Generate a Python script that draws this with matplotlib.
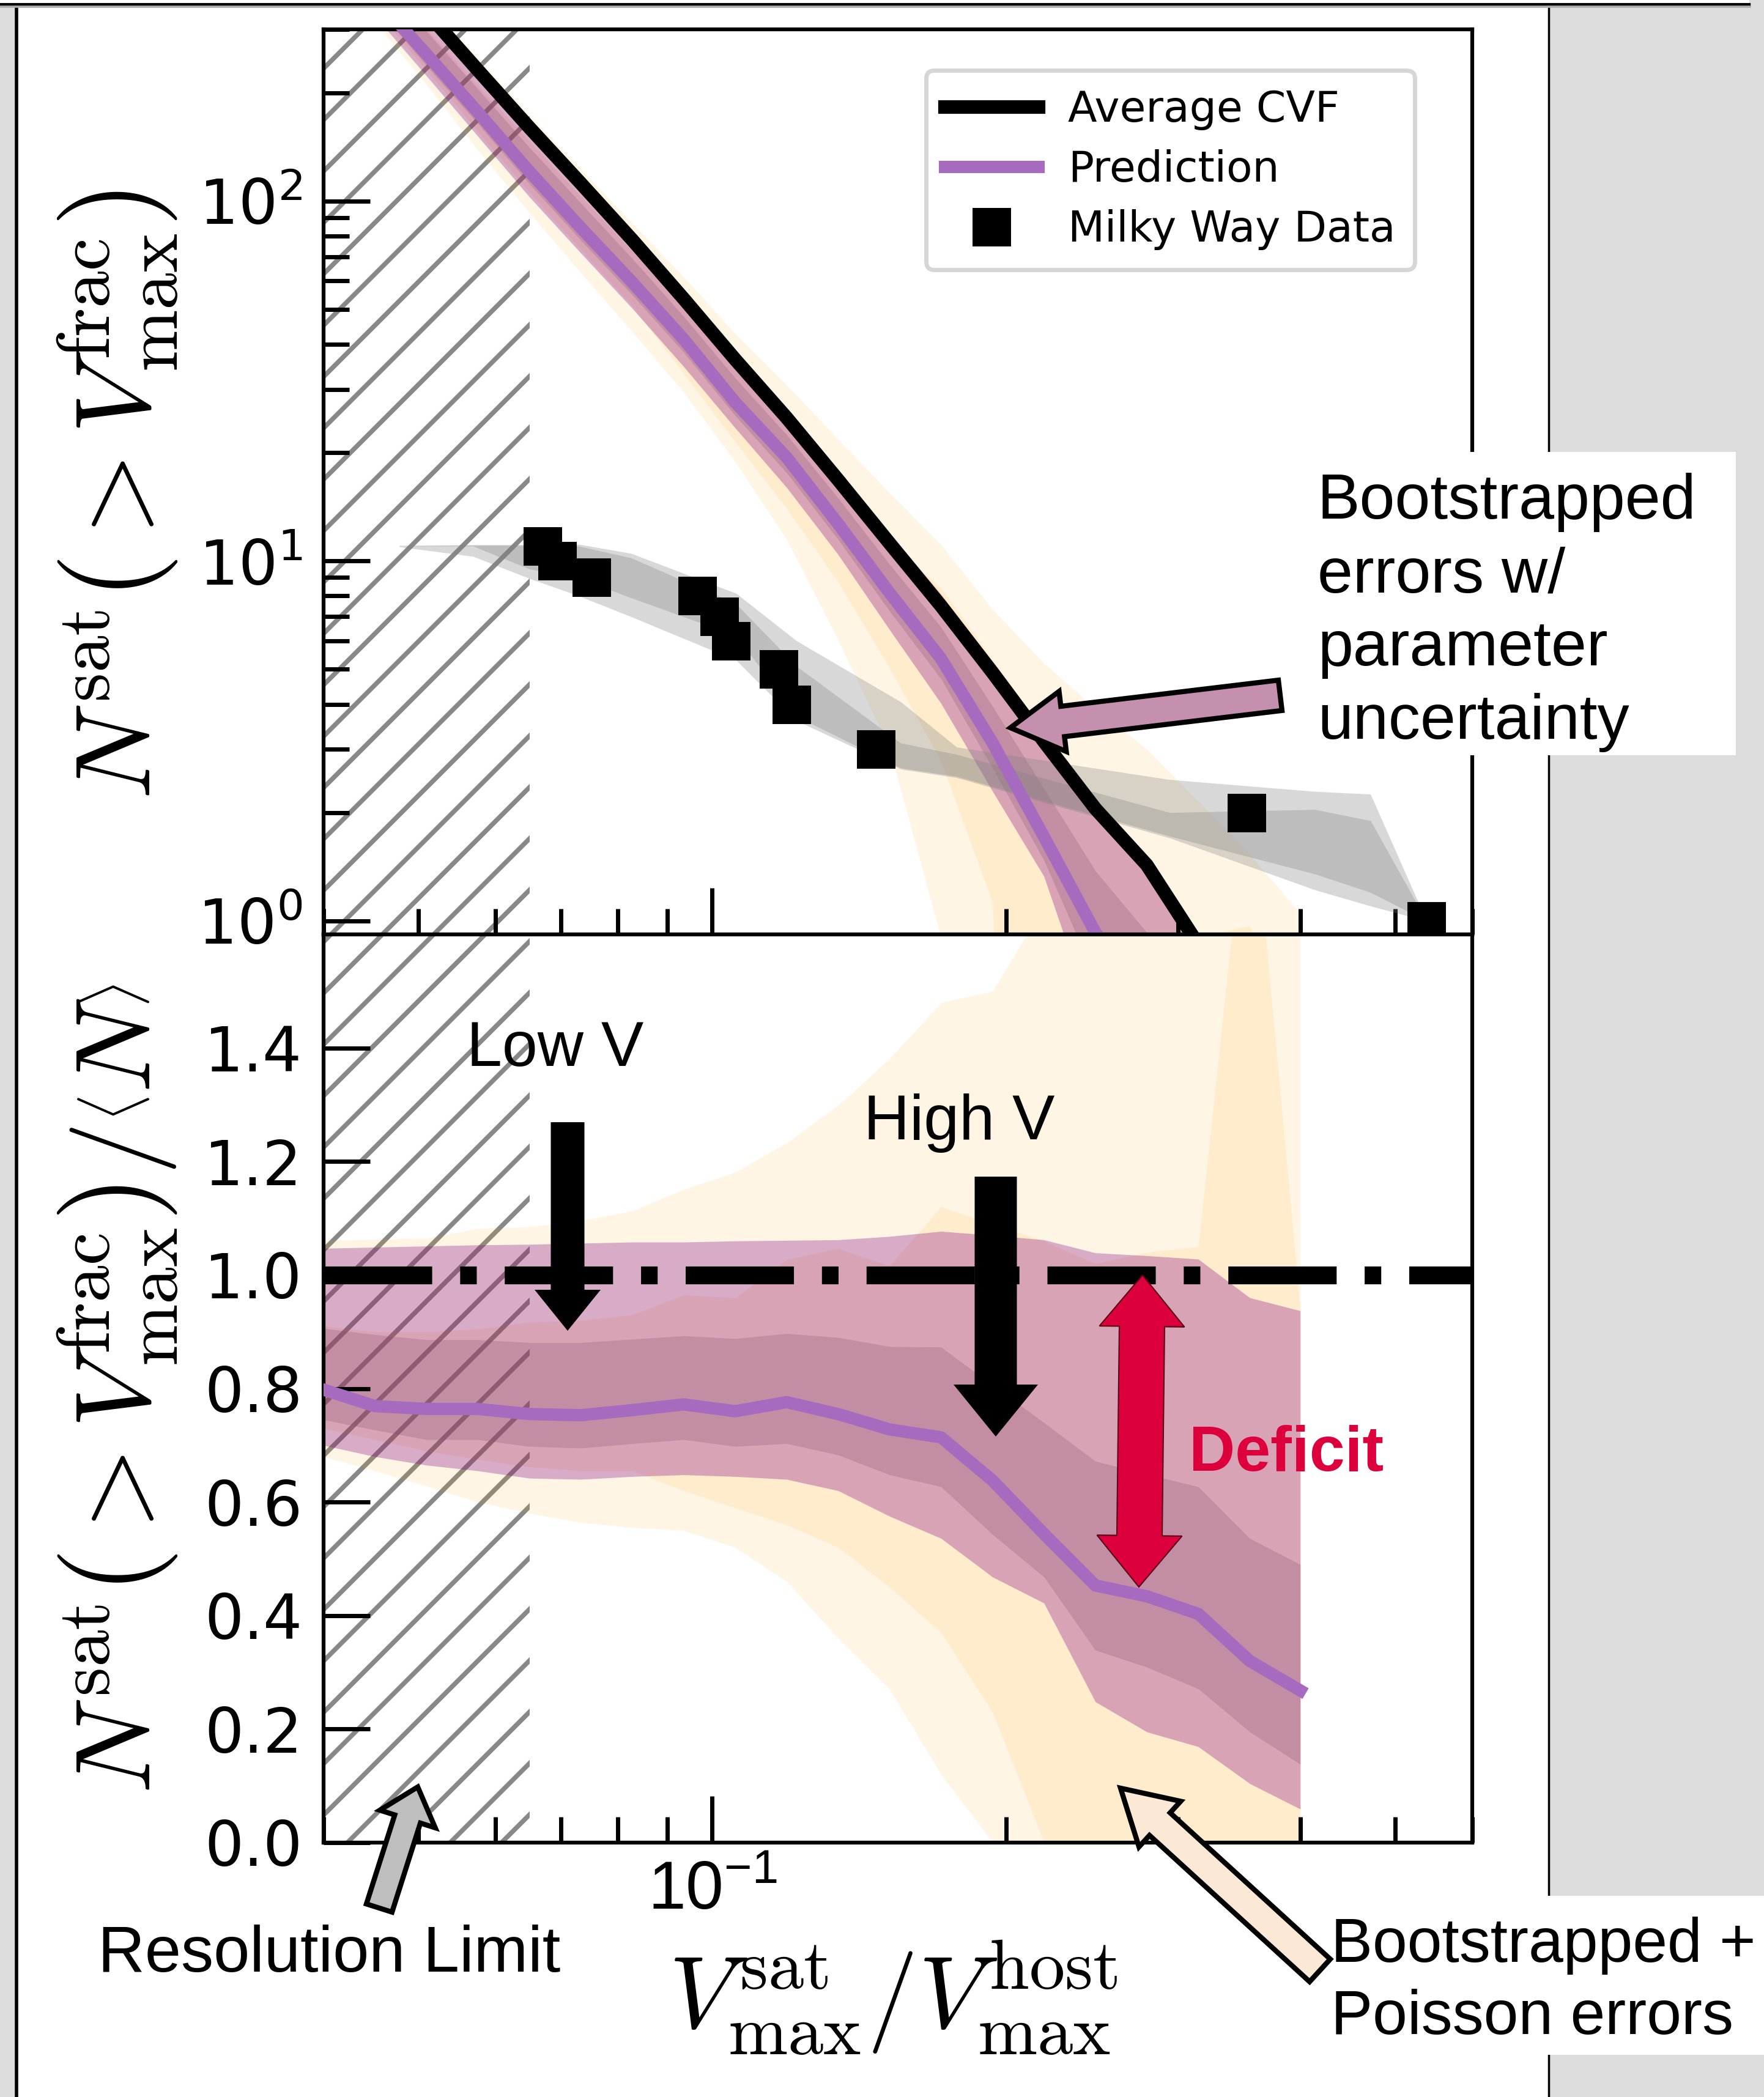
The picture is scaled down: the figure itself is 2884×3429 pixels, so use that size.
import numpy as np
import matplotlib
matplotlib.use('Agg')
import matplotlib.pyplot as plt
from matplotlib.patches import Polygon, Rectangle
from matplotlib.ticker import NullFormatter
from matplotlib.collections import LineCollection
from matplotlib.transforms import IdentityTransform

plt.rcParams['mathtext.fontset'] = 'cm'

# ---- data ----
# bin centres (log spaced, 0.04 .. 0.4)
vfrac = [0.04, 0.045159, 0.050983, 0.057559, 0.064983, 0.073364, 0.082826, 0.093508,
         0.10557, 0.11918, 0.13456, 0.15191, 0.17150, 0.19362, 0.21859, 0.24678,
         0.27861, 0.31454, 0.35511, 0.40]

# average cumulative velocity function (top panel, black)
avg_cvf = [690, 480, 335, 231, 160, 112, 78, 53.5, 36.3, 25, 16.8, 11.2, 7.5,
           4.9, 3.15, 2.05, 1.43, 0.86, 0.51, 0.30]

# prediction / average (bottom panel, purple line)
pred_ratio = [0.798, 0.769, 0.764, 0.764, 0.755, 0.753, 0.762, 0.772, 0.760, 0.776,
              0.755, 0.728, 0.714, 0.638, 0.544, 0.453, 0.434, 0.403, 0.320, 0.268]

# bootstrapped + poisson errors (yellow), outer and inner
y2_lo = [0.68, 0.655, 0.628, 0.60, 0.58, 0.564, 0.555, 0.55, 0.52, 0.46, 0.36, 0.27,
         0.12, 0.0, 0.0, 0.0, 0.0, 0.0, 0.0, 0.0]
y2_hi = [1.061, 1.063, 1.065, 1.082, 1.085, 1.096, 1.113, 1.151, 1.181, 1.233, 1.299,
         1.381, 1.48, 1.50, 1.65, 1.9, 2.1, 2.5, 3.0, 3.5]
y1_lo = [0.73, 0.71, 0.69, 0.675, 0.662, 0.655, 0.655, 0.62, 0.59, 0.56, 0.52, 0.45,
         0.37, 0.23, 0.0, 0.0, 0.0, 0.0, 0.0, 0.0]
y1_hi = [0.91, 0.90, 0.90, 0.905, 0.917, 0.92, 0.93, 0.965, 0.96, 1.027, 1.047, 1.016,
         1.12, 1.09, 1.06, 1.02, 1.04, 1.05, 1.9, 0.94]

# bootstrapped errors with parameter uncertainty (purple), outer and inner
p2_lo = [0.70, 0.68, 0.665, 0.655, 0.642, 0.64, 0.645, 0.648, 0.645, 0.64, 0.62, 0.575,
         0.536, 0.468, 0.422, 0.248, 0.195, 0.169, 0.104, 0.059]
p2_hi = [1.047, 1.049, 1.051, 1.053, 1.054, 1.056, 1.058, 1.058, 1.06, 1.061, 1.062,
         1.068, 1.077, 1.07, 1.062, 1.039, 1.034, 1.028, 0.96, 0.937]
p1_lo = [0.745, 0.727, 0.710, 0.710, 0.698, 0.695, 0.703, 0.710, 0.698, 0.703, 0.683,
         0.648, 0.627, 0.543, 0.468, 0.339, 0.309, 0.271, 0.195, 0.138]
p1_hi = [0.906, 0.895, 0.886, 0.886, 0.881, 0.881, 0.887, 0.893, 0.888, 0.897, 0.890,
         0.874, 0.873, 0.806, 0.740, 0.672, 0.649, 0.627, 0.536, 0.490]

# Milky Way satellites
mw_v = [0.067, 0.0694, 0.0752, 0.0965, 0.1017, 0.1045, 0.117, 0.1205, 0.147, 0.3526, 0.5387]
mw_n = [11, 10, 9, 8, 7, 6, 5, 4, 3, 2, 1]

# MW error envelope: outer edges and the darker overlap
mwb_v = [0.0478, 0.0569, 0.0650, 0.0730, 0.0826, 0.1058, 0.122, 0.156, 0.178, 0.294,
         0.414, 0.472, 0.5387]
mw_up = [11.05, 11.1, 11.1, 11.13, 10.5, 8.13, 6.0, 4.06, 3.04, 2.47, 2.29, 2.25, 1.0]
mw_dark_up = [11.0, 11.05, 11.05, 11.0, 10.2, 7.6, 5.1, 3.12, 2.9, 2.0, 2.04, 1.9, 1.0]
mw_dark_low = [11.0, 11.0, 9.5, 8.96, 7.9, 6.2, 3.7, 2.66, 2.52, 1.72, 1.35, 1.2, 1.0]
mw_low = [10.95, 10.3, 8.94, 8.0, 7.0, 5.3, 3.6, 2.64, 2.50, 1.70, 1.22, 1.1, 1.0]

res_limit = 0.065

W, H = 2884, 3429
fig = plt.figure(figsize=(W / 500, H / 500), dpi=500)

# slide frame behind the plot
bg = fig.add_axes([0, 0, 1, 1], zorder=-5)
bg.set_xlim(0, W); bg.set_ylim(H, 0); bg.axis('off')
bg.add_patch(Rectangle((0, 8), 25, H, color='#dcdcdc', lw=0))
bg.add_patch(Rectangle((2533, 8), W - 2533, H, color='#dcdcdc', lw=0))
bg.add_patch(Rectangle((2860, 0), 30, 12, color='#dcdcdc', lw=0))
bg.plot([26.5, 26.5], [8, H], color='k', lw=0.8)
bg.plot([2531.5, 2531.5], [8, H], color='k', lw=0.5)
bg.plot([0, 2860], [10, 10], color='#aaaaaa', lw=0.8)
bg.plot([0, 2860], [7, 7], color='k', lw=0.6)

ax1 = fig.add_axes([529 / W, 1 - 1528 / H, 1878 / W, 1480 / H])
ax2 = fig.add_axes([529 / W, 1 - 3013 / H, 1878 / W, 1485 / H], sharex=ax1)

v = np.array(vfrac)
avg = np.array(avg_cvf)
yellow = '#ffa500'
p_out = 'purple'
p_in = '#854d72'
purple_line = '#a66bbe'


def resolution_hatch(ax):
    span = ax.axvspan(0.04, res_limit, fill=False, lw=0)
    segs = [[(0, c), (W, c + W)] for c in np.arange(-W - 40, H + 84, 84)]
    lc = LineCollection(segs, colors='#888888', linewidths=1.1,
                        transform=IdentityTransform(), zorder=0.5)
    ax.add_collection(lc, autolim=False)
    lc.set_clip_path(span)


for ax, scale in ((ax1, avg), (ax2, np.ones_like(avg))):
    resolution_hatch(ax)
    ax.fill_between(v, np.maximum(np.array(y2_lo) * scale, 1e-3), np.array(y2_hi) * scale,
                    color=yellow, alpha=0.1, lw=0, zorder=1)
    ax.fill_between(v, np.maximum(np.array(y1_lo) * scale, 1e-3), np.array(y1_hi) * scale,
                    color=yellow, alpha=0.1, lw=0, zorder=1)
    ax.fill_between(v, np.array(p2_lo) * scale, np.array(p2_hi) * scale,
                    color=p_out, alpha=0.3, lw=0, zorder=1.5)
    ax.fill_between(v, np.array(p1_lo) * scale, np.array(p1_hi) * scale,
                    color=p_in, alpha=0.25, lw=0, zorder=1.5)

# top panel
ax1.fill_between(mwb_v, mw_dark_low, mw_up, color='gray', alpha=0.3, lw=0, zorder=2)
ax1.fill_between(mwb_v, mw_low, mw_dark_up, color='gray', alpha=0.3, lw=0, zorder=2)
ax1.plot(v, avg, color='k', lw=3.2, label='Average CVF', zorder=3)
ax1.plot(v, avg * np.array(pred_ratio), color=purple_line, lw=2.9, label='Prediction',
         zorder=3.5)
ax1.plot(mw_v, mw_n, 's', color='k', ms=8, label='Milky Way Data', zorder=4)
ax1.set_xscale('log')
ax1.set_yscale('log')
ax1.set_xlim(0.04, 0.6)
ax1.set_ylim(0.917, 300)
ax1.legend(loc='upper right', bbox_to_anchor=(0.95, 0.955), borderaxespad=0,
           fontsize=10, handlelength=2.2, handletextpad=0.7, labelspacing=0.45,
           borderpad=0.45)
ax1.set_ylabel(r'$N^{\rm sat}\left(>V_{\rm max}^{\rm frac}\right)$', fontsize=25)
ax1.yaxis.set_label_coords(-0.125, 0.486)

# bottom panel
ax2.plot(v, pred_ratio, color=purple_line, lw=2.9, zorder=3)
ax2.axhline(1.0, color='k', lw=4.2, linestyle=(0, (6.07, 1.57, 0.93, 1.57)), zorder=3)
ax2.set_ylim(0, 1.6)
ax2.set_yticks([0.0, 0.2, 0.4, 0.6, 0.8, 1.0, 1.2, 1.4])
ax2.set_ylabel(r'$N^{\rm sat}\left(>V_{\rm max}^{\rm frac}\right)/\left\langle N\right\rangle$',
               fontsize=25)
ax2.yaxis.set_label_coords(-0.125, 0.5)
ax2.set_xlabel(r'$V_{\rm max}^{\rm sat}/V_{\rm max}^{\rm host}$', fontsize=24)
ax2.xaxis.set_label_coords(0.496, -0.105)
ax2.xaxis.set_minor_formatter(NullFormatter())

for ax in (ax1, ax2):
    for s in ax.spines.values():
        s.set_linewidth(0.9)
    ax.tick_params(which='major', direction='in', length=11, width=1.0, labelsize=14.5, pad=5,
                   top=False, right=False)
    ax.tick_params(which='minor', direction='in', length=6, width=1.0, top=False, right=False)
ax1.tick_params(axis='x', which='both', labelbottom=False)
ax2.tick_params(axis='x', which='major', labelfontfamily='Liberation Sans', labelsize=16, pad=4)

# ---- annotation layer ----
ov = fig.add_axes([0, 0, 1, 1], zorder=10)
ov.set_xlim(0, W); ov.set_ylim(H, 0); ov.axis('off')
ov.patch.set_alpha(0)


def block_arrow(tail, tip, sw, hw, hl, fc, ec='k', lw=1.2, double=False):
    t = np.array(tail, float)
    p = np.array(tip, float)
    d = p - t
    u = d / np.hypot(*d)
    n = np.array([-u[1], u[0]])
    hb = p - u * hl
    if double:
        hb2 = t + u * hl
        pts = [t, hb2 + n * hw / 2, hb2 + n * sw / 2, hb + n * sw / 2, hb + n * hw / 2, p,
               hb - n * hw / 2, hb - n * sw / 2, hb2 - n * sw / 2, hb2 - n * hw / 2]
    else:
        pts = [t + n * sw / 2, hb + n * sw / 2, hb + n * hw / 2, p, hb - n * hw / 2,
               hb - n * sw / 2, t - n * sw / 2]
    ov.add_patch(Polygon(pts, closed=True, fc=fc, ec=ec, lw=lw, joinstyle='miter'))


sans = ['Liberation Sans', 'DejaVu Sans']
# text boxes
ov.add_patch(Rectangle((2114, 739), 724, 496, color='white', lw=0))
for i, line in enumerate(['Bootstrapped', 'errors w/', 'parameter', 'uncertainty']):
    ov.text(2154, 848 + 120 * i, line, fontsize=15, family=sans, va='baseline')
ov.add_patch(Rectangle((2175, 3100), 710, 260, color='white', lw=0))
ov.text(2176, 3208, 'Bootstrapped +', fontsize=14.7, family=sans, va='baseline')
ov.text(2176, 3326, 'Poisson errors', fontsize=14.7, family=sans, va='baseline')

ov.text(763, 1743, 'Low V', fontsize=15, family=sans, va='baseline')
ov.text(1412, 1863, 'High V', fontsize=15, family=sans, va='baseline')
ov.text(1944, 2405, 'Deficit', fontsize=15, family=sans, va='baseline',
        weight='bold', color='#dc003c')
ov.text(160, 3224, 'Resolution Limit', fontsize=15.3, family=sans, va='baseline')

block_arrow((2093, 1137), (1652, 1190), 50, 99, 86, '#c490ad')
block_arrow((928, 1835), (928, 2176), 55, 108, 67, 'k', lw=0)
block_arrow((1628, 1924), (1628, 2349), 69, 138, 85, 'k', lw=0)
block_arrow((1868, 2085), (1862, 2595), 74, 139, 84, '#dc003c', ec='#5a0015', lw=0.3,
            double=True)
block_arrow((620, 3120), (683, 2922), 44, 95, 55, '#bebebe')
block_arrow((2158, 3222), (1832, 2924), 50, 101, 87, '#fbe9d6')

fig.savefig('out.png', dpi=500)
